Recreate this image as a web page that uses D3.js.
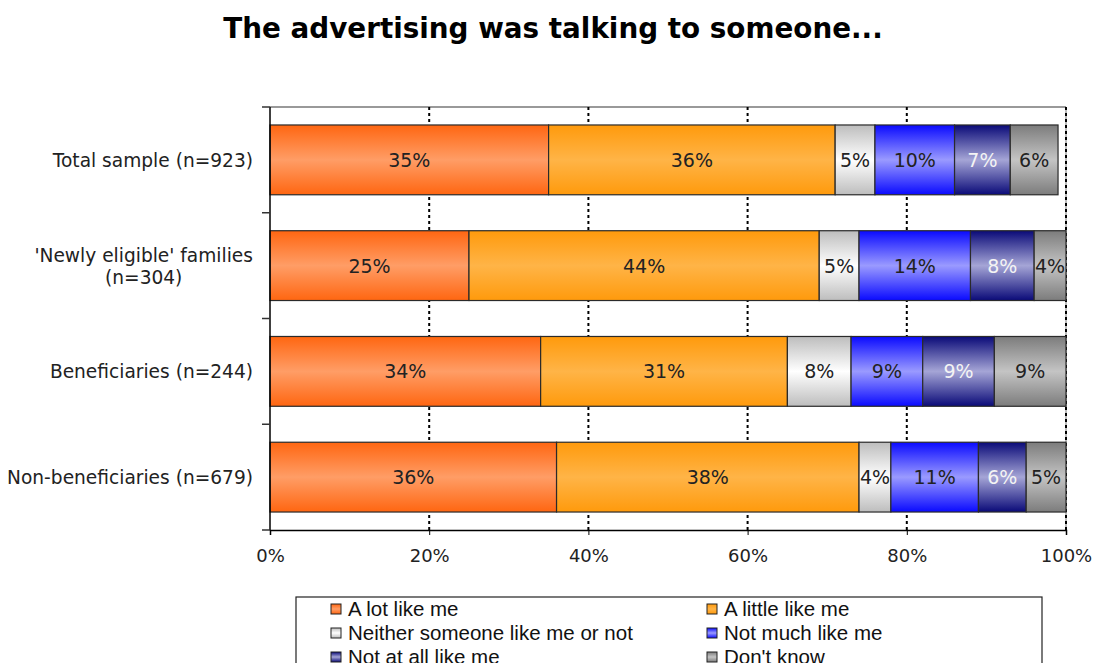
<!DOCTYPE html>
<html>
<head>
<meta charset="utf-8">
<script src="https://cdn.jsdelivr.net/npm/d3@7"></script>
<style>
  body { margin: 0; background: #fff; }
  svg { display: block; }
</style>
</head>
<body>
<div id="chart"></div>
<script>
const categories = ['Total sample (n=923)', "'Newly eligible' families (n=304)", 'Beneficiaries (n=244)', 'Non-beneficiaries (n=679)'];
const categoryLines = [['Total sample (n=923)'], ["'Newly eligible' families", '(n=304)'], ['Beneficiaries (n=244)'], ['Non-beneficiaries (n=679)']];
const seriesNames = ['A lot like me', 'A little like me', 'Neither someone like me or not', 'Not much like me', 'Not at all like me', "Don't know"];
const aLot = [35, 25, 34, 36];
const aLittle = [36, 44, 31, 38];
const neither = [5, 5, 8, 4];
const notMuch = [10, 14, 9, 11];
const notAtAll = [7, 8, 9, 6];
const dontKnow = [6, 4, 9, 5];
const xTicks = [0, 20, 40, 60, 80, 100];

// edge colour / middle colour of each gradient, and label colour
const sCol = [
    {edge: '#ff6611', mid: '#ff9d66', txt: '#222'},
    {edge: '#ff9a0c', mid: '#ffb447', txt: '#222'},
    {edge: '#bdbdbd', mid: '#ffffff', txt: '#222'},
    {edge: '#0a0aff', mid: '#9a9aff', txt: '#222'},
    {edge: '#0a0a78', mid: '#a5a5d6', txt: '#f4f4f4'},
    {edge: '#7c7c7c', mid: '#c4c4c4', txt: '#222'}
];

const seriesVals = [aLot, aLittle, neither, notMuch, notAtAll, dontKnow];
const rows = categories.map((c, i) => {
    const r = {cat: c};
    seriesNames.forEach((s, j) => r[s] = seriesVals[j][i]);
    return r;
});

const W = 1102, H = 663;
const margin = {top: 107, right: 36, bottom: 133, left: 270};
const w = W - margin.left - margin.right;
const h = H - margin.top - margin.bottom;
const font = 'DejaVu Sans, Verdana, sans-serif';

const root = d3.select('#chart').append('svg').attr('width', W).attr('height', H);

const defs = root.append('defs');
sCol.forEach((c, i) => {
    const g = defs.append('linearGradient').attr('id', 'g' + i).attr('x1', 0).attr('y1', 0).attr('x2', 0).attr('y2', 1);
    g.append('stop').attr('offset', '0%').attr('stop-color', c.edge);
    g.append('stop').attr('offset', '50%').attr('stop-color', c.mid);
    g.append('stop').attr('offset', '100%').attr('stop-color', c.edge);
});

root.append('text').attr('x', 553).attr('y', 38).attr('text-anchor', 'middle')
    .style('font-family', font).style('font-weight', 'bold').style('font-size', '27.8px')
    .style('fill', '#000').text('The advertising was talking to someone...');

const svg = root.append('g').attr('transform', `translate(${margin.left},${margin.top})`);

const x = d3.scaleLinear().domain([0, 100]).range([0, w]);
const y = d3.scaleBand().domain(categories).range([0, h]).paddingInner(0.34).paddingOuter(0.17);

// plot border (top & right)
svg.append('line').attr('x1', 0).attr('x2', w).attr('y1', 0).attr('y2', 0).style('stroke', '#777').style('stroke-width', 1.5);
svg.append('line').attr('x1', w).attr('x2', w).attr('y1', 0).attr('y2', h).style('stroke', '#777').style('stroke-width', 1);

// dotted gridlines
svg.append('g').selectAll('line').data(xTicks.slice(1)).enter().append('line')
    .attr('x1', d => x(d)).attr('x2', d => x(d)).attr('y1', 0).attr('y2', h)
    .style('stroke', '#000').style('stroke-width', 2).style('stroke-dasharray', '3,3');

const stack = d3.stack().keys(seriesNames)(rows);

const layers = svg.selectAll('.layer').data(stack).enter().append('g').attr('class', 'layer');
layers.each(function(s, i) {
    const L = d3.select(this);
    L.selectAll('rect').data(s).enter().append('rect')
        .attr('x', d => x(d[0])).attr('width', d => x(d[1]) - x(d[0]))
        .attr('y', d => y(d.data.cat)).attr('height', y.bandwidth())
        .style('fill', 'url(#g' + i + ')')
        .style('stroke', '#2a2a2a').style('stroke-width', 1.2);
    L.selectAll('text').data(s).enter().append('text')
        .attr('x', d => x((d[0] + d[1]) / 2)).attr('y', d => y(d.data.cat) + y.bandwidth() / 2 + 7)
        .attr('text-anchor', 'middle')
        .style('font-family', font).style('font-size', '19px')
        .style('fill', sCol[i].txt)
        .text(d => (d[1] - d[0]) + '%');
});

// left axis
const yAxis = svg.append('g');
yAxis.append('line').attr('x1', 0).attr('x2', 0).attr('y1', 0).attr('y2', h).style('stroke', '#000').style('stroke-width', 1.5);
const bounds = [0].concat(categories.map(c => y(c) + y.bandwidth() + y.step() * y.paddingInner() / 2));
bounds[bounds.length - 1] = h;
yAxis.selectAll('.tk').data(bounds).enter().append('line')
    .attr('x1', -8).attr('x2', 0).attr('y1', d => d).attr('y2', d => d).style('stroke', '#333').style('stroke-width', 1.5);

categories.forEach((c, i) => {
    const lines = categoryLines[i];
    const cy = y(c) + y.bandwidth() / 2;
    const t = svg.append('text')
        .style('font-family', font).style('font-size', '18.6px').style('fill', '#222');
    const spans = lines.map((l, k) => t.append('tspan').attr('x', -17).attr('text-anchor', 'end')
        .attr('y', cy + 7 + (k - (lines.length - 1) / 2) * 22).text(l));
    if (lines.length > 1) {
        const wid = spans[0].node().getComputedTextLength();
        spans.forEach(sp => sp.attr('text-anchor', 'middle').attr('x', -17 - wid / 2));
    }
});

// bottom axis
const xAxis = d3.axisBottom(x).tickValues(xTicks).tickFormat(d => d + '%').tickSize(5).tickPadding(14);
const xg = svg.append('g').attr('transform', `translate(0,${h})`).call(xAxis);
xg.select('.domain').style('stroke', '#000').style('stroke-width', 1.5);
xg.selectAll('line').style('stroke', '#000');
xg.selectAll('text').style('font-family', font).style('font-size', '18px').style('fill', '#222');

// legend
const leg = root.append('g').attr('transform', 'translate(296,597)');
leg.append('rect').attr('x', 0).attr('y', 0).attr('width', 746).attr('height', 90)
    .style('fill', '#fff').style('stroke', '#222').style('stroke-width', 1.2);
const items = leg.selectAll('.li').data(seriesNames).enter().append('g')
    .attr('transform', (d, i) => `translate(${i % 2 === 0 ? 35 : 411},${7 + Math.floor(i / 2) * 24})`);
items.append('rect').attr('width', 10).attr('height', 10)
    .style('fill', (d, i) => 'url(#g' + i + ')').style('stroke', '#222').style('stroke-width', 1);
items.append('text').attr('x', 17).attr('y', 12)
    .style('font-family', 'Liberation Sans, Arial, sans-serif').style('font-size', '20.5px').style('fill', '#111')
    .text(d => d);
</script>
</body>
</html>
